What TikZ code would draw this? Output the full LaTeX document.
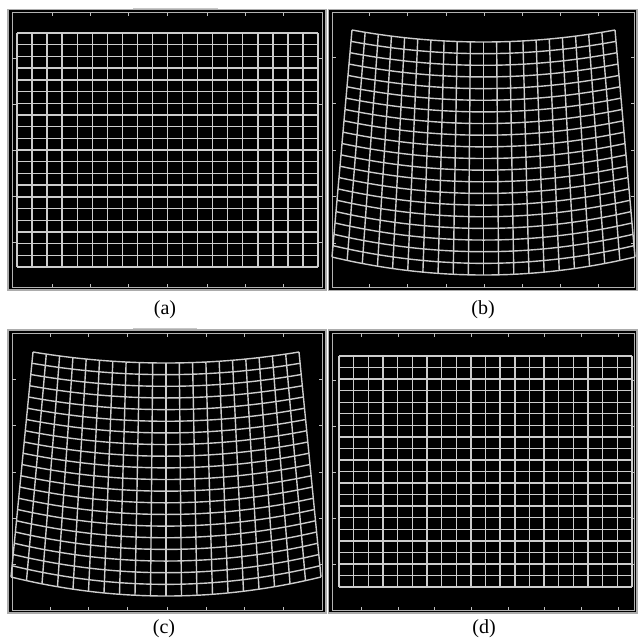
\documentclass[tikz,border=0pt]{standalone}
\usepackage{fontspec}
\setmainfont{Liberation Serif}
\tikzset{
  panelbg/.style={fill=black, draw=gray!65, line width=1.4pt},
  axframe/.style={draw=gray!60, line width=0.7pt},
  gridline/.style={draw=white!80!black, line width=1.4pt, line join=round},
  tickmark/.style={draw=white!75!black, line width=0.7pt},
  sublabel/.style={font=\fontsize{20}{20}\selectfont, inner sep=0pt},
  artifact/.style={draw=gray!45, line width=1.2pt}
}
\newcommand\distgrid[7]{%
  \foreach \j in {0,...,20} {
    \draw[gridline] plot[domain=-1:1, samples=41, smooth, variable=\u]
      ({#1 + (\u)*(#2 + (#3-#2)*\j/20)}, {#4 + (#5-#4)*\j/20 + (#6 + (#7-#6)*\j/20)*(1-(\u)*(\u))});
  }
  \foreach \i in {0,...,20} {
    \pgfmathsetmacro\uu{\i/10-1}
    \draw[gridline] ({#1+(\uu)*#2}, {#4 + #6*(1-(\uu)*(\uu))}) -- ({#1+(\uu)*#3}, {#5 + #7*(1-(\uu)*(\uu))});
  }
}
\newcommand\rectgrid[4]{%
  \foreach \i in {0,...,20} {
    \draw[gridline] ({#1+(#2-#1)*\i/20},#3) -- ({#1+(#2-#1)*\i/20},#4);
    \draw[gridline] (#1,{#3+(#4-#3)*\i/20}) -- (#2,{#3+(#4-#3)*\i/20});
  }
  \draw[gridline, rounded corners=1.5pt] (#1,#3) rectangle (#2,#4);
}
\begin{document}
\begin{tikzpicture}[x=1pt,y=-1pt]
\useasboundingbox[fill=white] (0,0) rectangle (638,643);

% ---------- panel (a)
\draw[artifact] (133,8.5) -- (218,8.5);
\draw[panelbg] (8,9.5) rectangle (326,290);
\draw[axframe] (12,12.5) rectangle (322,287);
\foreach \x in {52,90,128,167,207,245,283} {
  \draw[tickmark] (\x,12.5) -- (\x,16);
  \draw[tickmark] (\x,287) -- (\x,283.5);
}
\foreach \y in {58,104,150,196,242} {
  \draw[tickmark] (12,\y) -- (15.5,\y);
  \draw[tickmark] (322,\y) -- (318.5,\y);
}
\rectgrid{17}{318}{33}{267}
\node[sublabel] (la) at (165,309.5) {(a)};

% ---------- panel (b)
\draw[panelbg] (328.5,9.5) rectangle (637,290.5);
\draw[axframe] (332,12.5) rectangle (634,287.5);
\foreach \x in {369,407,446,484,522,560,598} {
  \draw[tickmark] (\x,12.5) -- (\x,16);
  \draw[tickmark] (\x,287.5) -- (\x,284);
}
\foreach \y in {57,103,150,196,243} {
  \draw[tickmark] (332,\y) -- (335.5,\y);
  \draw[tickmark] (634,\y) -- (630.5,\y);
}
\distgrid{483.5}{131.5}{151.5}{30}{257}{12}{18}
\node[sublabel] (lb) at (483,309.5) {(b)};

% ---------- panel (c)
\draw[artifact] (133,329) -- (197,329);
\draw[panelbg] (8,330) rectangle (326,613);
\draw[axframe] (12,333) rectangle (322,610);
\foreach \x in {50,88,127,167,206,244,283} {
  \draw[tickmark] (\x,333) -- (\x,336.5);
  \draw[tickmark] (\x,610) -- (\x,606.5);
}
\foreach \y in {379,425,472,518,564} {
  \draw[tickmark] (12,\y) -- (15.5,\y);
  \draw[tickmark] (322,\y) -- (318.5,\y);
}
\distgrid{166}{133}{155}{352}{577}{11}{19}
\node[sublabel] (lc) at (164,628.5) {(c)};

% ---------- panel (d)
\draw[panelbg] (328.5,330) rectangle (637,613);
\draw[axframe] (332,333) rectangle (634,610);
\foreach \x in {361,398,434,471,508,544,581,618} {
  \draw[tickmark] (\x,333) -- (\x,336.5);
  \draw[tickmark] (\x,610) -- (\x,606.5);
}
\foreach \y in {380,426,472,518,564} {
  \draw[tickmark] (332,\y) -- (335.5,\y);
  \draw[tickmark] (634,\y) -- (630.5,\y);
}
\rectgrid{339}{632}{356}{587}
\node[sublabel] (ld) at (484,628.5) {(d)};
\end{tikzpicture}
\end{document}
